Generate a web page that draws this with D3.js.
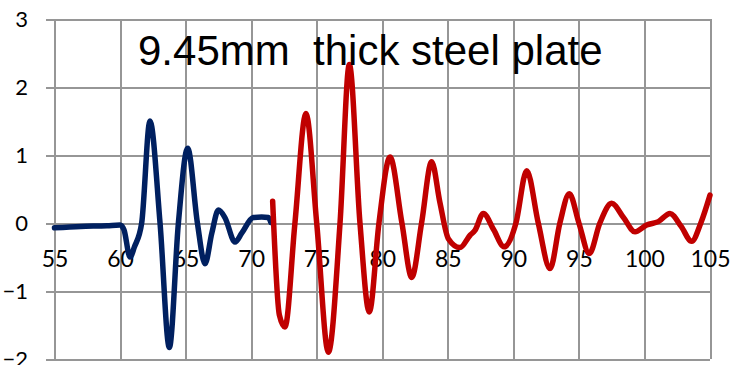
<!DOCTYPE html>
<html lang="en">
<head>
    <meta charset="UTF-8">
    <title>9.45mm thick steel plate</title>
    <script src="https://cdn.jsdelivr.net/npm/d3@7"></script>
    <style>
        body { margin: 0; background: #fff; }
        .grid line { stroke: #969696; stroke-width: 2; shape-rendering: crispEdges; }
        .lbl text { font-family: Lato, "Open Sans", sans-serif; fill: #000; }
    </style>
</head>
<body>
<script>
    // data
    var xTicks = [55, 60, 65, 70, 75, 80, 85, 90, 95, 100, 105];
    var yTicks = [-2, -1, 0, 1, 2, 3];

    var blueX = [55, 57, 59, 60, 60.3, 60.76, 61.1, 61.65, 62.28, 63.05, 63.76, 64.45, 65.16, 65.9, 66.48, 67.0, 67.5, 68.0, 68.77, 69.28, 70.16, 70.8, 71.3, 71.5];
    var blueY = [-0.07, -0.05, -0.04, -0.03, -0.1, -0.5, -0.35, 0.0, 1.5, 0.0, -1.83, 0.0, 1.1, 0.0, -0.6, -0.15, 0.19, 0.08, -0.28, -0.15, 0.08, 0.09, 0.08, 0.01];

    var redX = [71.64, 72.15, 72.58, 73.34, 74.18, 75.0, 75.89, 76.78, 77.49, 78.3, 79.01, 79.75, 80.59, 81.5, 82.25, 83.0, 83.77, 84.4, 85.04, 85.93, 86.7, 87.07, 87.71, 88.5, 89.29, 90.2, 91.02, 91.9, 92.8, 93.55, 94.27, 95.0, 95.79, 96.6, 97.5, 98.4, 99.28, 100.17, 101.06, 101.95, 102.8, 103.6, 104.3, 105];
    var redY = [0.32, -1.35, -1.53, 0.0, 1.61, 0.0, -1.9, 0.0, 2.33, 0.0, -1.31, 0.0, 0.97, 0.0, -0.8, 0.0, 0.9, 0.3, -0.23, -0.36, -0.18, -0.11, 0.14, -0.1, -0.35, 0.0, 0.77, 0.0, -0.67, 0.0, 0.43, 0.0, -0.45, 0.0, 0.29, 0.08, -0.13, -0.03, 0.02, 0.14, -0.05, -0.27, 0.0, 0.41];

    var width = 731, height = 365;
    var plotLeft = 54.5, plotRight = 710, plotTop = 19, plotBottom = 359;

    var svg = d3.select("body").append("svg")
        .attr("width", width)
        .attr("height", height);

    var x = d3.scaleLinear().domain([55, 105]).range([plotLeft, plotRight]);
    var y = d3.scaleLinear().domain([-2, 3]).range([plotBottom, plotTop]);

    // vertical grid
    svg.append("g")
        .attr("class", "grid")
        .attr("transform", "translate(0," + plotBottom + ")")
        .call(d3.axisBottom(x).tickValues(xTicks).tickSize(-(plotBottom - plotTop)).tickFormat(""))
        .call(function(g){ g.select(".domain").remove(); });

    // horizontal grid + y labels
    var yAxis = svg.append("g")
        .attr("class", "grid lbl")
        .attr("transform", "translate(46,0)")
        .call(d3.axisLeft(y).tickValues(yTicks).tickFormat(d3.format("d"))
            .tickSize(-(plotRight - 46)).tickPadding(18))
        .call(function(g){ g.select(".domain").remove(); });
    yAxis.selectAll("text").attr("font-size", 22);

    // x labels below zero line
    var xAxis = svg.append("g")
        .attr("class", "lbl")
        .attr("transform", "translate(0," + y(0) + ")")
        .call(d3.axisBottom(x).tickValues(xTicks).tickSize(0))
        .call(function(g){ g.select(".domain").remove(); });
    xAxis.selectAll("text")
        .attr("font-size", 23)
        .attr("y", 44)
        .attr("dy", 0);

    var line = d3.line()
        .x(function(d){ return x(d[0]); })
        .y(function(d){ return y(d[1]); })
        .curve(d3.curveMonotoneX);

    var blue = d3.zip(blueX, blueY);
    var red = d3.zip(redX, redY);

    svg.append("path")
        .attr("d", line(blue))
        .attr("fill", "none")
        .attr("stroke", "#002060")
        .attr("stroke-width", 5.5)
        .attr("stroke-linejoin", "round")
        .attr("stroke-linecap", "round");

    svg.append("path")
        .attr("d", line(red))
        .attr("fill", "none")
        .attr("stroke", "#C00000")
        .attr("stroke-width", 5.5)
        .attr("stroke-linejoin", "round")
        .attr("stroke-linecap", "round");

    // title
    svg.append("text")
        .attr("x", 138)
        .attr("y", 65)
        .attr("font-family", "'Liberation Sans', Arial, sans-serif")
        .attr("font-size", 42)
        .style("white-space", "pre")
        .text("9.45mm  thick steel plate");
</script>
</body>
</html>
